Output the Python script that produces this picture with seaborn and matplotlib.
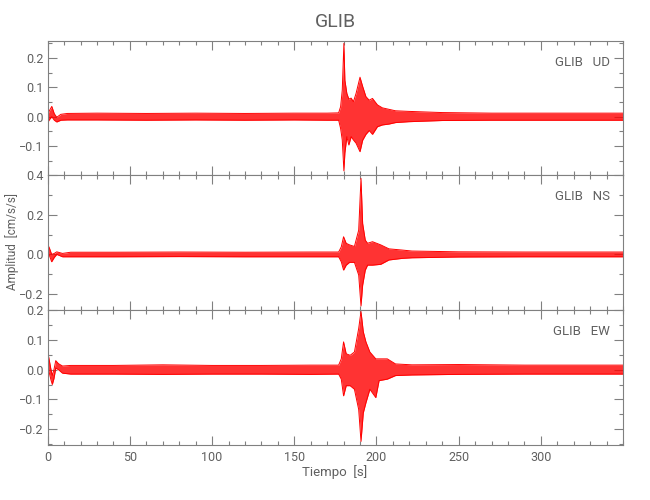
import matplotlib
matplotlib.use("Agg")
import matplotlib.pyplot as plt
import numpy as np
import pandas as pd
import seaborn as sns
from matplotlib.ticker import MultipleLocator

# Envelope of each trace (upper / lower amplitude, cm/s/s)
T_UD = [0, 1, 2.5, 4, 5.5, 8, 12, 30, 60, 90, 120, 150, 170, 177, 178.2, 179.2,
        180.2, 180.8, 182, 183.2, 184.6, 186, 187.6, 190, 191.6, 193.6, 195.6,
        197.6, 200.6, 203.6, 207.6, 211.6, 219.6, 240, 270, 300, 330, 350]
UP_UD = [0.005, 0.02, 0.035, 0.01, -0.002, 0.008, 0.011, 0.012, 0.011, 0.012,
         0.011, 0.012, 0.012, 0.013, 0.034, 0.09, 0.249, 0.124, 0.079, 0.06,
         0.063, 0.051, 0.079, 0.134, 0.103, 0.068, 0.056, 0.062, 0.04, 0.03,
         0.025, 0.02, 0.018, 0.014, 0.012, 0.012, 0.012, 0.012]
LO_UD = [-0.02, -0.01, 0.0, -0.012, -0.018, -0.012, -0.011, -0.011, -0.012,
         -0.011, -0.012, -0.011, -0.012, -0.012, -0.04, -0.079, -0.184, -0.123,
         -0.068, -0.096, -0.068, -0.079, -0.09, -0.119, -0.08, -0.06, -0.047,
         -0.06, -0.034, -0.028, -0.025, -0.02, -0.017, -0.013, -0.012, -0.012,
         -0.012, -0.012]

T_NS = [0, 0.8, 2.4, 4, 5.5, 9, 14, 40, 80, 120, 160, 177, 178.6, 180, 181.6,
        183.6, 186.6, 189.2, 190.6, 191.6, 193.2, 194.6, 197.6, 202.6, 207.6,
        215.6, 221.6, 250, 290, 320, 350]
UP_NS = [0.01, 0.038, 0.0, 0.005, 0.013, 0.005, 0.011, 0.011, 0.012, 0.011,
         0.012, 0.012, 0.038, 0.089, 0.056, 0.048, 0.04, 0.122, 0.383, 0.156,
         0.072, 0.056, 0.064, 0.048, 0.028, 0.022, 0.017, 0.013, 0.012, 0.012,
         0.012]
LO_NS = [-0.01, 0.0, -0.037, -0.015, 0.0, -0.012, -0.012, -0.012, -0.011,
         -0.012, -0.012, -0.012, -0.037, -0.079, -0.054, -0.04, -0.04, -0.104,
         -0.26, -0.155, -0.079, -0.054, -0.054, -0.05, -0.028, -0.02, -0.017,
         -0.013, -0.012, -0.012, -0.012]

T_EW = [0, 0.5, 2, 2.8, 3.8, 4.9, 6.5, 9, 14, 40, 70, 100, 130, 160, 177,
        178.6, 180, 181.6, 184, 186.6, 189.2, 190.6, 192, 193.6, 196, 199.6,
        201.6, 206.6, 211.6, 221.6, 250, 290, 320, 350]
UP_EW = [0.01, 0.045, 0.0, -0.02, 0.0, 0.03, 0.02, 0.012, 0.014, 0.014, 0.016,
         0.014, 0.014, 0.015, 0.015, 0.036, 0.093, 0.053, 0.048, 0.059, 0.138,
         0.195, 0.127, 0.093, 0.059, 0.036, 0.036, 0.036, 0.019, 0.016, 0.017,
         0.015, 0.015, 0.015]
LO_EW = [-0.01, 0.0, -0.035, -0.05, -0.03, 0.005, 0.0, -0.012, -0.015, -0.015,
         -0.016, -0.015, -0.015, -0.016, -0.015, -0.032, -0.088, -0.054, -0.054,
         -0.066, -0.134, -0.241, -0.145, -0.111, -0.066, -0.094, -0.037, -0.032,
         -0.02, -0.018, -0.016, -0.015, -0.015, -0.015]

COMPONENTS = ["UD", "NS", "EW"]
STATION = "GLIB"
X_TICKS = [0, 50, 100, 150, 200, 250, 300]
Y_LIMITS = [(-0.198, 0.258), (-0.28, 0.4), (-0.253, 0.2)]
Y_MAJOR = [0.1, 0.2, 0.1]
Y_MINOR = [0.05, 0.1, 0.05]

GREY = "#808080"
TEXT = "#606060"

sns.set_style("ticks")
plt.rcParams["font.family"] = ["Roboto", "DejaVu Sans"]

traces = {
    "UD": pd.DataFrame({"t": T_UD, "up": UP_UD, "lo": LO_UD}),
    "NS": pd.DataFrame({"t": T_NS, "up": UP_NS, "lo": LO_NS}),
    "EW": pd.DataFrame({"t": T_EW, "up": UP_EW, "lo": LO_EW}),
}

fig = plt.figure(figsize=(6.5, 5), dpi=100)
left, width = 47.7 / 650, (623 - 47.7) / 650
panel_px = [(40.7, 175), (175, 310), (310, 445)]

for i, comp in enumerate(COMPONENTS):
    top, bot = panel_px[i]
    ax = fig.add_axes([left, 1 - bot / 500, width, (bot - top) / 500])
    df = traces[comp]
    ax.fill_between(df["t"], df["lo"], df["up"], color="#ff0000", alpha=0.8, lw=0)
    sns.lineplot(data=df, x="t", y="up", ax=ax, color="#ff0000", lw=0.7)
    sns.lineplot(data=df, x="t", y="lo", ax=ax, color="#ff0000", lw=0.7)

    ax.set_xlim(0, 350)
    ax.set_ylim(*Y_LIMITS[i])
    ax.set_xticks(X_TICKS)
    ax.xaxis.set_minor_locator(MultipleLocator(10))
    ax.yaxis.set_major_locator(MultipleLocator(Y_MAJOR[i]))
    ax.yaxis.set_minor_locator(MultipleLocator(Y_MINOR[i]))
    ax.yaxis.set_major_formatter(plt.FuncFormatter(lambda v, p: f"{v:.1f}".replace("-", "\u2212")))
    ax.tick_params(which="both", direction="in", top=True, right=True,
                   color=GREY, labelcolor=TEXT, labelsize=9, width=0.8)
    ax.tick_params(which="major", length=6.5)
    ax.tick_params(which="minor", length=3.2)
    ax.tick_params(axis="x", pad=4)
    ax.tick_params(axis="y", pad=3)
    for s in ax.spines.values():
        s.set_color(GREY)
        s.set_linewidth(0.8)
    ax.set_xlabel("")
    ax.set_ylabel("")
    if i < 2:
        ax.tick_params(axis="x", labelbottom=False)
    ax.text(0.977, 0.84, f"{STATION}   {comp}", transform=ax.transAxes,
            ha="right", va="center", fontsize=9.5, color=TEXT)

fig.text(335 / 650, 1 - 22 / 500, STATION, ha="center", va="center",
         fontsize=14, color=TEXT)
fig.text(12 / 650, 1 - 242 / 500, "Amplitud  [cm/s/s]", rotation=90,
         ha="center", va="center", fontsize=8.5, color=TEXT)
fig.text(335 / 650, 1 - 472 / 500, "Tiempo  [s]", ha="center", va="center",
         fontsize=9.5, color=TEXT)

fig.savefig("out.png", dpi=100, facecolor="white")
